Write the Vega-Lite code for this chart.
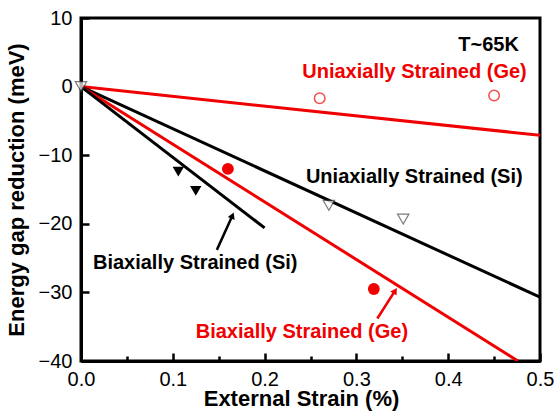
{
  "$schema": "https://vega.github.io/schema/vega-lite/v6.json",
  "width": 459,
  "height": 343,
  "autosize": {"type": "none"},
  "padding": {"left": 81, "top": 18, "right": 18, "bottom": 53},
  "background": "white",
  "view": {"stroke": "black", "strokeWidth": 3},
  "config": {"font": "Liberation Sans"},
  "resolve": {"scale": {"color": "independent"}},
  "datasets": {
    "lines": [
      {"series": "uniGe", "strain": 0, "gap": 0},
      {"series": "uniGe", "strain": 0.5, "gap": -7.1},
      {"series": "uniSi", "strain": 0, "gap": 0},
      {"series": "uniSi", "strain": 0.5, "gap": -30.7},
      {"series": "biGe", "strain": 0, "gap": 0},
      {"series": "biGe", "strain": 0.476, "gap": -40},
      {"series": "biSi", "strain": 0, "gap": 0},
      {"series": "biSi", "strain": 0.2, "gap": -20.6}
    ],
    "uniGe": [
      {"strain": 0.26, "gap": -1.7},
      {"strain": 0.45, "gap": -1.3}
    ],
    "uniSi": [
      {"strain": 0.0, "gap": 0.0},
      {"strain": 0.27, "gap": -17.3},
      {"strain": 0.351, "gap": -19.3}
    ],
    "biSi": [
      {"strain": 0.106, "gap": -12.4},
      {"strain": 0.125, "gap": -15.2}
    ],
    "biGe": [
      {"strain": 0.16, "gap": -12.0},
      {"strain": 0.319, "gap": -29.5}
    ],
    "arrows": [
      {"arrow": "Si", "x1": 0.148, "y1": -23.8, "x2": 0.165, "y2": -18.8, "hx": 0.165, "hy": -18.8, "angle": 22.7},
      {"arrow": "Ge", "x1": 0.3228, "y1": -33.8, "x2": 0.3422, "y2": -29.75, "hx": 0.3422, "hy": -29.75, "angle": 32.8}
    ],
    "labels": [
      {"label": "T~65K", "strain": 0.477, "gap": 6.1, "kind": "black", "align": "right"},
      {"label": "Uniaxially Strained (Ge)", "strain": 0.241, "gap": 2.1, "kind": "red", "align": "left"},
      {"label": "Uniaxially Strained (Si)", "strain": 0.245, "gap": -13.2, "kind": "black", "align": "left"},
      {"label": "Biaxially Strained (Si)", "strain": 0.013, "gap": -25.7, "kind": "black", "align": "left"},
      {"label": "Biaxially Strained (Ge)", "strain": 0.125, "gap": -35.8, "kind": "red", "align": "left"}
    ]
  },
  "layer": [
    {
      "data": {"name": "lines"},
      "mark": {"type": "line", "strokeWidth": 3, "clip": true},
      "encoding": {
        "x": {
          "field": "strain", "type": "quantitative",
          "scale": {"domain": [0, 0.5], "nice": false, "zero": false},
          "axis": {
            "title": "External Strain (%)",
            "values": [0, 0.05, 0.1, 0.15, 0.2, 0.25, 0.3, 0.35, 0.4, 0.45, 0.5],
            "labelExpr": "abs(datum.value*10 - round(datum.value*10)) < 0.01 ? format(datum.value, '.1f') : ''",
            "tickSize": {"condition": {"test": "abs(datum.value*10 - round(datum.value*10)) < 0.01", "value": -8}, "value": -5},
            "tickWidth": 2.5,
            "tickColor": "black",
            "domainColor": "black",
            "domainWidth": 3,
            "grid": false,
            "labelOverlap": false,
            "labelFlush": false,
            "labelFont": "Liberation Sans",
            "labelFontSize": 20,
            "labelColor": "black",
            "labelPadding": 16,
            "titleFont": "Liberation Sans",
            "titleFontSize": 22,
            "titleFontWeight": "bold",
            "titleColor": "black",
            "titlePadding": -4,
            "titleX": 220
          }
        },
        "y": {
          "field": "gap", "type": "quantitative",
          "scale": {"domain": [-40, 10], "nice": false, "zero": false},
          "axis": {
            "title": "Energy gap reduction (meV)",
            "values": [-40, -35, -30, -25, -20, -15, -10, -5, 0, 5, 10],
            "labelExpr": "datum.value % 10 == 0 ? format(datum.value, 'd') : ''",
            "tickSize": {"condition": {"test": "datum.value % 10 == 0", "value": -8}, "value": -5},
            "tickWidth": 2.5,
            "tickColor": "black",
            "domainColor": "black",
            "domainWidth": 3,
            "grid": false,
            "labelOverlap": false,
            "labelFlush": false,
            "labelFont": "Liberation Sans",
            "labelFontSize": 20,
            "labelColor": "black",
            "labelPadding": 17,
            "titleFont": "Liberation Sans",
            "titleFontSize": 22,
            "titleFontWeight": "bold",
            "titleColor": "black",
            "titlePadding": 10
          }
        },
        "detail": {"field": "series"},
        "color": {
          "field": "series", "type": "nominal",
          "scale": {"domain": ["uniGe", "uniSi", "biGe", "biSi"], "range": ["#f00000", "#000000", "#f00000", "#000000"]},
          "legend": null
        }
      }
    },
    {
      "data": {"name": "uniGe"},
      "mark": {"type": "point", "shape": "circle", "size": 110, "filled": false, "stroke": "#f00000", "strokeWidth": 1.5},
      "encoding": {
        "x": {"field": "strain", "type": "quantitative"},
        "y": {"field": "gap", "type": "quantitative"}
      }
    },
    {
      "data": {"name": "uniSi"},
      "mark": {"type": "point", "shape": "triangle-down", "size": 130, "filled": true, "fill": "white", "stroke": "#444444", "strokeWidth": 1.2},
      "encoding": {
        "x": {"field": "strain", "type": "quantitative"},
        "y": {"field": "gap", "type": "quantitative"}
      }
    },
    {
      "data": {"name": "biSi"},
      "mark": {"type": "point", "shape": "triangle-down", "size": 130, "filled": true, "fill": "black", "opacity": 1},
      "encoding": {
        "x": {"field": "strain", "type": "quantitative"},
        "y": {"field": "gap", "type": "quantitative"}
      }
    },
    {
      "data": {"name": "biGe"},
      "mark": {"type": "point", "shape": "circle", "size": 140, "filled": true, "fill": "#f00000", "opacity": 1},
      "encoding": {
        "x": {"field": "strain", "type": "quantitative"},
        "y": {"field": "gap", "type": "quantitative"}
      }
    },
    {
      "data": {"name": "arrows"},
      "mark": {"type": "rule", "strokeWidth": 2.5},
      "encoding": {
        "x": {"field": "x1", "type": "quantitative"},
        "y": {"field": "y1", "type": "quantitative"},
        "x2": {"field": "x2"},
        "y2": {"field": "y2"},
        "color": {
          "field": "arrow", "type": "nominal",
          "scale": {"domain": ["Si", "Ge"], "range": ["#000000", "#f00000"]},
          "legend": null
        }
      }
    },
    {
      "data": {"name": "arrows"},
      "mark": {"type": "point", "shape": "triangle-up", "size": 55, "filled": true, "opacity": 1},
      "encoding": {
        "x": {"field": "hx", "type": "quantitative"},
        "y": {"field": "hy", "type": "quantitative"},
        "angle": {"field": "angle", "type": "quantitative", "scale": null},
        "color": {
          "field": "arrow", "type": "nominal",
          "scale": {"domain": ["Si", "Ge"], "range": ["#000000", "#f00000"]},
          "legend": null
        }
      }
    },
    {
      "data": {"name": "labels"},
      "transform": [{"filter": "datum.align == 'left'"}],
      "mark": {"type": "text", "align": "left", "baseline": "middle", "font": "Liberation Sans", "fontSize": 20, "fontWeight": "bold"},
      "encoding": {
        "x": {"field": "strain", "type": "quantitative"},
        "y": {"field": "gap", "type": "quantitative"},
        "text": {"field": "label"},
        "color": {
          "field": "kind", "type": "nominal",
          "scale": {"domain": ["black", "red"], "range": ["#000000", "#f00000"]},
          "legend": null
        }
      }
    },
    {
      "data": {"name": "labels"},
      "transform": [{"filter": "datum.align == 'right'"}],
      "mark": {"type": "text", "align": "right", "baseline": "middle", "font": "Liberation Sans", "fontSize": 20, "fontWeight": "bold", "color": "black"},
      "encoding": {
        "x": {"field": "strain", "type": "quantitative"},
        "y": {"field": "gap", "type": "quantitative"},
        "text": {"field": "label"}
      }
    }
  ]
}
